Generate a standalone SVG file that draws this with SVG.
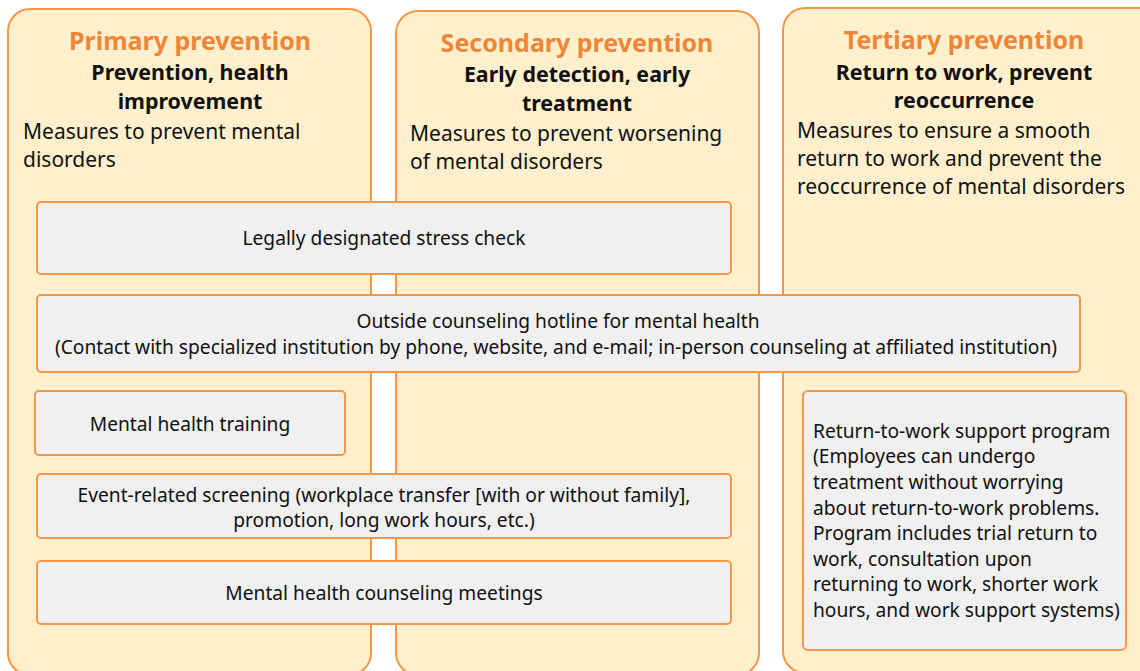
<svg xmlns="http://www.w3.org/2000/svg" width="1140" height="671" viewBox="0 0 1140 671">
<style>
.col{fill:#FFF0CD;stroke:#F79646;stroke-width:2}
.box{fill:#F0F0F0;stroke:#F79646;stroke-width:2}
.t{font-family:"Noto Sans",sans-serif;font-weight:bold;font-size:25px;fill:#EE8537;text-anchor:middle}
.s{font-family:"Noto Sans",sans-serif;font-weight:bold;font-size:21.4px;fill:#111;text-anchor:middle}
.d{font-family:"Noto Sans",sans-serif;font-size:21px;fill:#111}
.b{font-family:"Noto Sans",sans-serif;font-size:19.2px;fill:#111}
.c{text-anchor:middle}
</style>
<g id="col-primary">
<rect class="col" x="8" y="9" width="363" height="666" rx="22"/>
<text class="t" x="190" y="50">Primary prevention</text>
<text class="s" x="190" y="80">Prevention, health</text>
<text class="s" x="190" y="109">improvement</text>
<text class="d" x="23" y="139">Measures to prevent mental</text>
<text class="d" x="23" y="167">disorders</text>
</g>
<g id="col-secondary">
<rect class="col" x="396" y="11" width="363" height="664" rx="22"/>
<text class="t" x="577" y="52">Secondary prevention</text>
<text class="s" x="577" y="82">Early detection, early</text>
<text class="s" x="577" y="111">treatment</text>
<text class="d" x="410" y="141">Measures to prevent worsening</text>
<text class="d" x="410" y="169">of mental disorders</text>
</g>
<g id="col-tertiary">
<rect class="col" x="783" y="8" width="380" height="665" rx="22"/>
<text class="t" x="964" y="49">Tertiary prevention</text>
<text class="s" x="964" y="80">Return to work, prevent</text>
<text class="s" x="964" y="108">reoccurrence</text>
<text class="d" x="797" y="138">Measures to ensure a smooth</text>
<text class="d" x="797" y="166">return to work and prevent the</text>
<text class="d" x="797" y="194">reoccurrence of mental disorders</text>
</g>
<g id="stress-check">
<rect class="box" x="37" y="202" width="694" height="72" rx="4"/>
<text class="b c" x="384" y="245">Legally designated stress check</text>
</g>
<g id="hotline">
<rect class="box" x="37" y="295" width="1043" height="77" rx="4"/>
<text class="b c" x="558" y="328">Outside counseling hotline for mental health</text>
<text class="b c" x="556" y="354">(Contact with specialized institution by phone, website, and e-mail; in-person counseling at affiliated institution)</text>
</g>
<g id="training">
<rect class="box" x="35" y="391" width="310" height="64" rx="4"/>
<text class="b c" x="190" y="431">Mental health training</text>
</g>
<g id="screening">
<rect class="box" x="37" y="474" width="694" height="64" rx="4"/>
<text class="b c" x="384" y="502">Event-related screening (workplace transfer [with or without family],</text>
<text class="b c" x="384" y="527">promotion, long work hours, etc.)</text>
</g>
<g id="meetings">
<rect class="box" x="37" y="561" width="694" height="63" rx="4"/>
<text class="b c" x="384" y="600">Mental health counseling meetings</text>
</g>
<g id="return-program">
<rect class="box" x="803" y="391" width="323" height="259" rx="5"/>
<text class="b" x="813" y="438">Return-to-work support program</text>
<text class="b" x="813" y="463">(Employees can undergo</text>
<text class="b" x="813" y="489">treatment without worrying</text>
<text class="b" x="813" y="515">about return-to-work problems.</text>
<text class="b" x="813" y="540">Program includes trial return to</text>
<text class="b" x="813" y="566">work, consultation upon</text>
<text class="b" x="813" y="591">returning to work, shorter work</text>
<text class="b" x="813" y="617">hours, and work support systems)</text>
</g>
</svg>
